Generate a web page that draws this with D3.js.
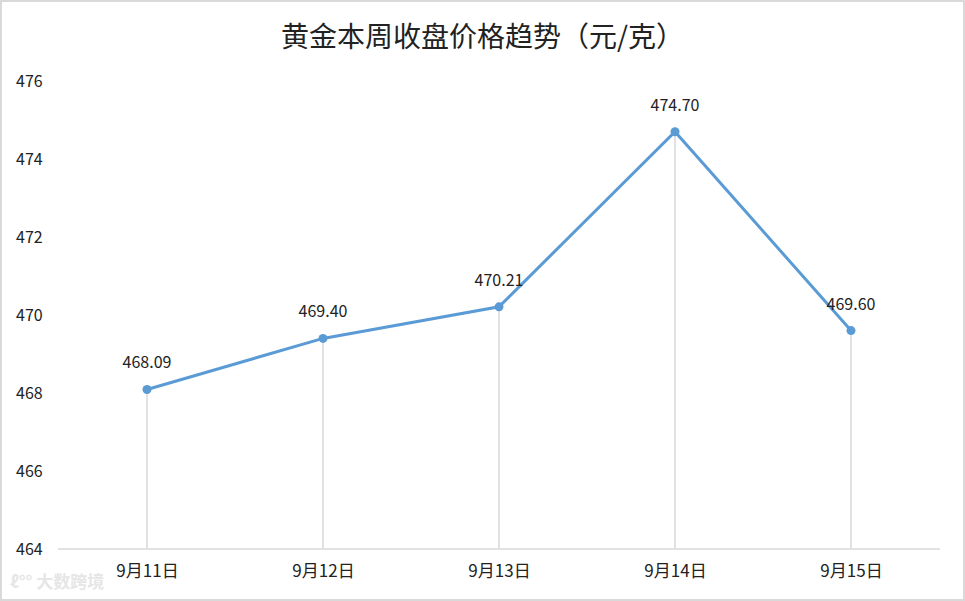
<!DOCTYPE html>
<html>
<head>
<meta charset="utf-8">
<script src="https://cdn.jsdelivr.net/npm/d3@7"></script>
<style>
  body { margin: 0; background: #fff; }
  text { font-family: "Noto Sans CJK SC", "Noto Sans", sans-serif; }
</style>
</head>
<body>
<div id="chart"></div>
<script>
var days = ["9月11日", "9月12日", "9月13日", "9月14日", "9月15日"],
    prices = [468.09, 469.40, 470.21, 474.70, 469.60],
    yTicks = [464, 466, 468, 470, 472, 474, 476];

var W = 965, H = 601,
    margin = { top: 81, right: 26, bottom: 52, left: 59 },
    width = W - margin.left - margin.right,
    height = H - margin.top - margin.bottom;

var svg = d3.select("#chart").append("svg")
    .attr("width", W)
    .attr("height", H);

// outer frame
svg.append("rect")
    .attr("x", 1).attr("y", 1)
    .attr("width", W - 2).attr("height", H - 2)
    .attr("fill", "#fff")
    .attr("stroke", "#d9d9d9")
    .attr("stroke-width", 2);

svg.append("text")
    .attr("x", W / 2)
    .attr("y", 47)
    .attr("text-anchor", "middle")
    .attr("font-size", 28)
    .attr("fill", "#222")
    .text("黄金本周收盘价格趋势（元/克）");

var g = svg.append("g")
    .attr("transform", "translate(" + margin.left + "," + margin.top + ")");

var x = d3.scalePoint()
    .domain(days)
    .range([0, width])
    .padding(0.5);

var y = d3.scaleLinear()
    .domain([464, 476])
    .range([height, 0]);

// y tick labels only
g.selectAll(".ylab")
    .data(yTicks)
    .enter().append("text")
    .attr("class", "ylab")
    .attr("x", -43)
    .attr("y", function (d) { return y(d) + 6; })
    .attr("font-size", 16)
    .attr("fill", "#222")
    .text(function (d) { return d; });

// drop lines
g.selectAll(".drop")
    .data(prices)
    .enter().append("line")
    .attr("class", "drop")
    .attr("x1", function (d, i) { return x(days[i]); })
    .attr("x2", function (d, i) { return x(days[i]); })
    .attr("y1", function (d) { return y(d); })
    .attr("y2", height)
    .attr("stroke", "#d9d9d9")
    .attr("stroke-width", 1.5);

// x axis
var xa = g.append("g")
    .attr("transform", "translate(0," + height + ")")
    .call(d3.axisBottom(x).tickSize(0).tickPadding(16));
xa.select(".domain").attr("stroke", "#d9d9d9").attr("stroke-width", 1.5)
    .attr("d", "M" + (-1) + ",0H" + (width + 1));
xa.selectAll("text")
    .attr("font-size", 17)
    .attr("fill", "#222")
    .style("font-family", "\"Noto Sans CJK SC\", sans-serif");

var line = d3.line()
    .x(function (d, i) { return x(days[i]); })
    .y(function (d) { return y(d); });

g.append("path")
    .datum(prices)
    .attr("d", line)
    .attr("fill", "none")
    .attr("stroke", "#5b9bd5")
    .attr("stroke-width", 3);

g.selectAll(".dot")
    .data(prices)
    .enter().append("circle")
    .attr("class", "dot")
    .attr("cx", function (d, i) { return x(days[i]); })
    .attr("cy", function (d) { return y(d); })
    .attr("r", 4.5)
    .attr("fill", "#5b9bd5");

g.selectAll(".vlab")
    .data(prices)
    .enter().append("text")
    .attr("class", "vlab")
    .attr("x", function (d, i) { return x(days[i]); })
    .attr("y", function (d) { return y(d) - 21; })
    .attr("text-anchor", "middle")
    .attr("font-size", 16)
    .attr("fill", "#222")
    .text(function (d) { return d.toFixed(2); });

// faint watermark
svg.append("text")
    .attr("x", 10)
    .attr("y", 588)
    .attr("font-size", 17)
    .attr("font-weight", "bold")
    .attr("fill", "#e6e6e6")
    .text("ℓ°° 大数跨境");
</script>
</body>
</html>
